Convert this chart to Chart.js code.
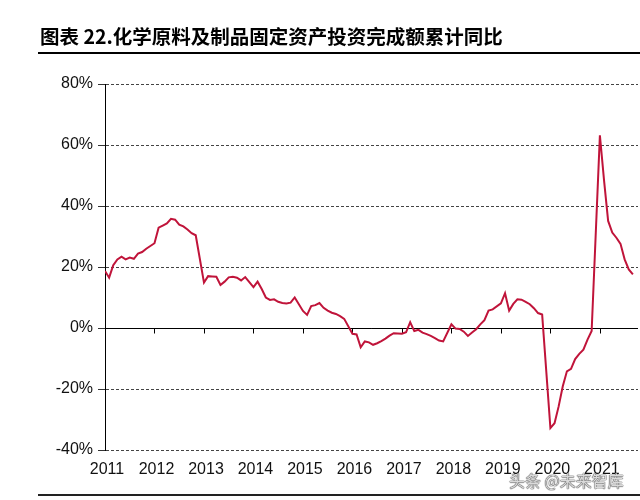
<!DOCTYPE html>
<html>
<head>
<meta charset="utf-8">
<script src="https://cdn.jsdelivr.net/npm/chart.js@4"></script>
<style>
  body { margin: 0; background: #fff; }
  #wrap { position: relative; width: 640px; height: 500px; overflow: hidden; }
  #myChart { position: absolute; left: 0; top: 0; }
  .title { position: absolute; left: 40px; top: 26px; font: bold 19.5px "Noto Sans CJK SC"; line-height: 20px; color: #000; white-space: nowrap; }
  .rule { position: absolute; left: 38px; width: 602px; background: #000; }
  .mark { position: absolute; left: 509px; top: 470px; font: 16px "Noto Sans CJK SC"; line-height: 20px; color: rgba(235,235,235,0.9);
          text-shadow: 0 0 1px #444, 0 0 1px #444, 0 0 1px #444; white-space: nowrap; }
</style>
</head>
<body>
<div id="wrap">
  <canvas id="myChart" width="640" height="500"></canvas>
  <div class="title">图表 22.化学原料及制品固定资产投资完成额累计同比</div>
  <div class="rule" style="top:52px;height:2px"></div>
  <div class="rule" style="top:494px;height:2px;background:#222"></div>
  <div class="mark">头条 @未来智库</div>
</div>
<script>
// cumulative YoY (%), Feb..Dec each year (no January release)
var y2011 = [18.7, 16.5, 20.6, 22.5, 23.4, 22.5, 23.1, 22.7, 24.4, 24.9, 26.0];
var y2012 = [27.8, 32.9, 33.6, 34.3, 35.8, 35.5, 33.9, 33.3, 32.3, 31.1, 30.4];
var y2013 = [14.9, 17.0, 16.9, 16.8, 14.1, 15.2, 16.6, 16.8, 16.5, 15.6, 16.7];
var y2014 = [13.4, 15.2, 12.8, 10.0, 9.2, 9.4, 8.6, 8.2, 8.0, 8.3, 10.0];
var y2015 = [5.6, 4.3, 7.2, 7.5, 8.2, 6.6, 5.7, 5.0, 4.6, 3.9, 3.0];
var y2016 = [-1.9, -2.1, -6.3, -4.4, -4.7, -5.5, -5.0, -4.3, -3.5, -2.5, -1.7];
var y2017 = [-1.9, -1.4, 1.9, -1.0, -0.6, -1.5, -2.0, -2.6, -3.3, -4.1, -4.4];
var y2018 = [1.2, -0.2, -0.3, -1.2, -2.6, -1.5, -0.4, 1.2, 2.6, 5.7, 6.1];
var y2019 = [8.1, 11.4, 5.7, 7.9, 9.4, 9.3, 8.6, 7.8, 6.5, 4.9, 4.4];
var y2020 = [-32.8, -31.2, -25.7, -19.1, -14.2, -13.4, -10.2, -8.5, -7.1, -3.8, -1.0];
var y2021 = [63.2, 48.5, 35.1, 31.3, 29.6, 27.6, 22.5, 19.2, 17.6];

var years = [2011, 2012, 2013, 2014, 2015, 2016, 2017, 2018, 2019, 2020, 2021];
var yearData = [y2011, y2012, y2013, y2014, y2015, y2016, y2017, y2018, y2019, y2020, y2021];
var yTicks = [-40, -20, 0, 20, 40, 60, 80];

// x = year + (month - 2) / 12, so February sits on the year tick
var points = [];
yearData.forEach(function (arr, i) {
  arr.forEach(function (v, j) {
    points.push({ x: years[i] + j / 12, y: v });
  });
});

var zeroLine = {
  id: 'zeroLine',
  beforeDatasetsDraw: function (chart) {
    var ctx = chart.ctx, a = chart.chartArea;
    var y0 = Math.round(chart.scales.y.getPixelForValue(0)) + 0.5;
    ctx.save();
    ctx.strokeStyle = '#000';
    ctx.lineWidth = 1;
    ctx.beginPath();
    ctx.moveTo(a.left, y0);
    ctx.lineTo(a.right, y0);
    years.forEach(function (yr) {
      var x = Math.round(chart.scales.x.getPixelForValue(yr)) + 0.5;
      ctx.moveTo(x, y0);
      ctx.lineTo(x, y0 + 5);
    });
    ctx.stroke();
    ctx.restore();
  }
};

var ctx = document.getElementById('myChart').getContext('2d');
var myChart = new Chart(ctx, {
  type: 'line',
  data: {
    datasets: [{
      data: points,
      borderColor: 'rgb(192,20,58)',
      borderWidth: 2,
      pointRadius: 0,
      tension: 0,
      fill: false
    }]
  },
  options: {
    responsive: false,
    animation: false,
    devicePixelRatio: 1,
    layout: { padding: { top: 84, right: 2, bottom: 0, left: 0 } },
    plugins: {
      legend: { display: false },
      tooltip: { enabled: false }
    },
    scales: {
      x: {
        type: 'linear',
        min: 2011,
        max: 2021.77,
        afterBuildTicks: function (s) { s.ticks = years.map(function (v) { return { value: v }; }); },
        afterFit: function (s) { s.height = 50; },
        grid: { display: false },
        border: { display: false },
        ticks: {
          padding: 2,
          labelOffset: 2,
          color: '#111',
          font: { family: 'Liberation Sans', size: 16 },
          callback: function (v) { return String(v); }
        }
      },
      y: {
        min: -40,
        max: 80,
        afterBuildTicks: function (s) { s.ticks = yTicks.map(function (v) { return { value: v }; }); },
        afterFit: function (s) { s.width = 105; },
        grid: {
          color: '#444',
          lineWidth: 1,
          drawTicks: true,
          tickLength: 7,
          tickColor: '#333',
          tickBorderDash: []
        },
        border: { display: true, color: '#000', width: 1, dash: [3, 2] },
        ticks: {
          padding: 5,
          color: '#111',
          font: { family: 'Liberation Sans', size: 16 },
          callback: function (v) { return v + '%'; }
        }
      }
    }
  },
  plugins: [zeroLine]
});
</script>
</body>
</html>
